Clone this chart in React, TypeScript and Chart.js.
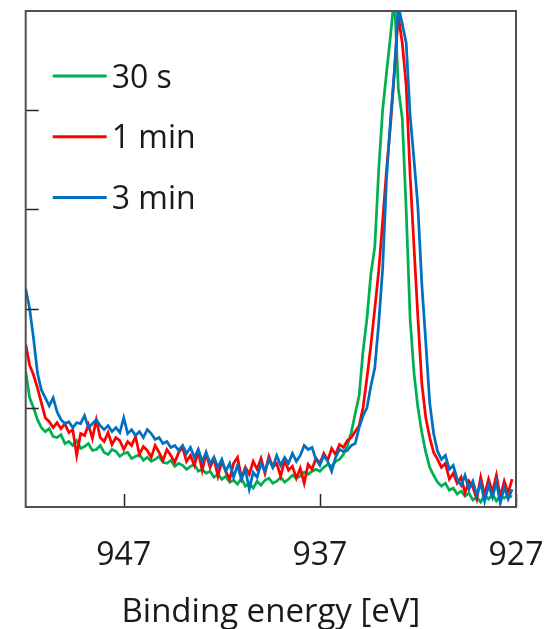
import React, { useEffect, useRef } from "react";
import { Chart, registerables } from "chart.js";

Chart.register(...registerables);

// Binding energy grid (eV), from 952 eV down in 0.2 eV steps
const energyStart = 952;
const energyStep = 0.2;

const seriesLabels = ["30 s", "1 min", "3 min"];
const seriesColors = ["#00B050", "#FF0000", "#0070C0"];

// Intensity (arb. units, axis 0–500)
const green30s = [
  137, 110, 100, 88, 80, 76, 79, 71, 70, 73,
  64, 66, 62, 67, 59, 61, 64, 57, 58, 62,
  55, 53, 58, 56, 51, 54, 55, 49, 51, 53,
  47, 50, 46, 48, 51, 45, 44, 47, 41, 44,
  42, 38, 41, 43, 36, 38, 34, 36, 30, 33,
  28, 31, 25, 27, 23, 29, 21, 24, 19, 26,
  22, 27, 29, 24, 26, 30, 25, 28, 32, 29,
  31, 35, 33, 36, 38, 36, 40, 43, 41, 46,
  48, 53, 62, 75, 94, 112, 157, 190, 235, 262,
  340, 400, 438, 475, 515, 422, 392, 300, 190, 135,
  100, 75, 55, 40, 32, 25, 21, 24, 17, 19,
  13, 16, 11, 14, 7, 10, 5, 12, 8, 13,
  6, 11, 9, 12, 10,
];

const red1min = [
  164, 143, 133, 120, 105, 90, 86, 80, 85, 79,
  84, 75, 78, 52, 74, 72, 83, 69, 88, 70,
  66, 75, 63, 70, 67, 58, 66, 62, 71, 53,
  61, 57, 50, 62, 55, 47, 58, 52, 45, 55,
  60, 46, 52, 42, 56, 37, 54, 40, 49, 31,
  46, 36, 28, 44, 50, 29, 40, 33, 46, 38,
  49, 34, 51, 40, 44, 31, 47, 37, 41, 29,
  39, 24, 43, 38, 49, 44, 54, 47, 59, 53,
  63, 60, 67, 70, 76, 82, 100, 130, 163, 200,
  238, 288, 340, 385, 438, 495, 468, 425, 335, 262,
  190, 124, 90, 70, 55, 48, 40, 44, 28, 34,
  24, 30, 14, 26, 20, 8, 30, 12, 28, 15,
  32, 10, 26, 14, 28,
];

const blue3min = [
  220, 200, 170, 135, 118, 110, 102, 110, 96, 88,
  84, 86, 80, 85, 84, 92, 80, 84, 88, 82,
  78, 82, 76, 80, 75, 90, 74, 78, 72, 76,
  70, 78, 74, 68, 70, 64, 66, 60, 62, 57,
  62, 54, 60, 50, 58, 46, 55, 44, 50, 40,
  48, 36, 44, 30, 42, 28, 38, 18, 35, 30,
  44, 36, 48, 40, 52, 42, 50, 44, 54, 46,
  52, 62, 58, 60, 48, 42, 52, 46, 36, 50,
  58, 56, 57, 62, 64, 80, 92, 100, 122, 140,
  185, 240, 332, 390, 440, 505, 487, 468, 395, 350,
  302, 224, 166, 105, 74, 56, 48, 52, 38, 42,
  28, 22, 32, 18, 26, 12, 24, 6, 22, 10,
  25, 4, 20, 8, 18,
];

const seriesValues = [green30s, red1min, blue3min];

const xMin = 927;
const xMax = 952;
const yMin = 0;
const yMax = 500;
const xTickValues = [947, 937, 927];
const yTickValues = [100, 200, 300, 400];
const xTitle = "Binding energy [eV]";

const FONT = "'Open Sans', 'DejaVu Sans', sans-serif";
const TEXT_COLOR = "#1a1a1a";

const framePlugin = {
  id: "frameTicksLegend",
  afterDatasetsDraw(chart: any) {
    const { ctx, chartArea: a, scales } = chart;
    ctx.save();
    // inward tick marks
    ctx.strokeStyle = "#262626";
    ctx.lineWidth = 1.5;
    xTickValues.forEach((v) => {
      const px = Math.round(scales.x.getPixelForValue(v)) + 0.5;
      ctx.beginPath();
      ctx.moveTo(px, a.bottom);
      ctx.lineTo(px, a.bottom - 13);
      ctx.stroke();
    });
    yTickValues.forEach((v) => {
      const py = Math.round(scales.y.getPixelForValue(v)) + 0.5;
      ctx.beginPath();
      ctx.moveTo(a.left, py);
      ctx.lineTo(a.left + 13, py);
      ctx.stroke();
    });
    // frame
    ctx.strokeStyle = "#505050";
    ctx.lineWidth = 2;
    ctx.strokeRect(a.left, a.top, a.right - a.left, a.bottom - a.top);
    // legend
    ctx.font = `32px ${FONT}`;
    ctx.textBaseline = "alphabetic";
    ctx.textAlign = "left";
    seriesLabels.forEach((label, i) => {
      const ly = a.top + 65 + i * 60.7;
      ctx.strokeStyle = seriesColors[i];
      ctx.lineWidth = 3;
      ctx.beginPath();
      ctx.moveTo(a.left + 27, ly);
      ctx.lineTo(a.left + 81, ly);
      ctx.stroke();
      ctx.fillStyle = TEXT_COLOR;
      ctx.fillText(label, a.left + 86, ly + 11.5);
    });
    ctx.restore();
  },
};

export default function App() {
  const canvasRef = useRef<HTMLCanvasElement | null>(null);

  useEffect(() => {
    if (!canvasRef.current) return;
    const datasets = seriesValues.map((vals, i) => ({
      label: seriesLabels[i],
      data: vals.map((v, k) => ({ x: energyStart - k * energyStep, y: v })),
      borderColor: seriesColors[i],
      backgroundColor: seriesColors[i],
      borderWidth: 2.75,
      pointRadius: 0,
      tension: 0,
      fill: false,
      clip: 0,
      order: 2 - i,
    }));

    const chart = new Chart(canvasRef.current, {
      type: "line",
      data: { datasets },
      options: {
        animation: false,
        responsive: true,
        maintainAspectRatio: false,
        layout: { padding: { left: 25.7, right: 29, top: 11, bottom: 0 } },
        plugins: {
          legend: { display: false },
          tooltip: { enabled: false },
        },
        scales: {
          x: {
            type: "linear",
            reverse: true,
            min: xMin,
            max: xMax,
            grid: { display: false, drawTicks: true, tickLength: 30 },
            border: { display: false },
            afterBuildTicks: (scale: any) => {
              scale.ticks = xTickValues.map((v) => ({ value: v }));
            },
            afterFit: (scale: any) => {
              scale.height = 122;
            },
            ticks: {
              autoSkip: false,
              maxRotation: 0,
              padding: 0,
              color: TEXT_COLOR,
              font: { family: FONT, size: 32 },
              callback: (v: any) => String(v),
            },
            title: {
              display: true,
              text: xTitle,
              color: TEXT_COLOR,
              font: { family: FONT, size: 33 },
              padding: { top: 0, bottom: -3 },
            },
          },
          y: {
            type: "linear",
            display: false,
            min: yMin,
            max: yMax,
          },
        },
      },
      plugins: [framePlugin],
    });
    return () => chart.destroy();
  }, []);

  return (
    <div style={{ position: "absolute", left: 0, top: 0, width: 545, height: 629, background: "#fff" }}>
      <canvas ref={canvasRef} />
    </div>
  );
}
